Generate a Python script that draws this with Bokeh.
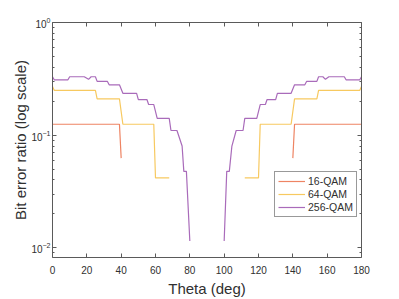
from bokeh.plotting import figure
from bokeh.models import (LinearAxis, LogAxis, FixedTicker, Range1d, Legend, LegendItem,
                          CustomJSTickFormatter)
from bokeh.embed import file_html
from bokeh.resources import INLINE

nan = float("nan")

# ---- data ----
theta_16 = [0, 39, 40, nan, 140, 141, 180]
ber_16 = [0.125, 0.125, 0.0625, nan, 0.0625, 0.125, 0.125]

theta_64 = [0, 1, 25, 26, 39, 41, 59, 60, 68, nan,
            112, 120, 121, 139, 141, 154, 155, 179, 180]
ber_64 = [0.27, 0.25, 0.25, 0.21, 0.21, 0.125, 0.125, 0.0417, 0.0417, nan,
          0.0417, 0.0417, 0.125, 0.125, 0.21, 0.21, 0.25, 0.25, 0.27]

theta_256 = [0, 1, 9, 10, 18.5, 21, 22.5, 25, 26, 32, 33, 39, 41, 49, 50, 55, 56, 59,
             61, 68, 69, 72.5, 75.5, 76.5, 78, 80, nan,
             100, 101.5, 103, 104.5, 107, 111, 112, 119, 121, 124, 125, 130, 131, 139,
             141, 147, 148, 154, 155, 157.5, 159, 161, 170, 171, 179, 180]
ber_256 = [0.33, 0.31, 0.31, 0.33, 0.33, 0.313, 0.33, 0.33, 0.30, 0.30, 0.28, 0.28,
           0.235, 0.235, 0.207, 0.207, 0.187, 0.187, 0.141, 0.141, 0.110, 0.110,
           0.08, 0.0477, 0.0477, 0.0115, nan,
           0.0115, 0.0477, 0.0477, 0.08, 0.110, 0.110, 0.141, 0.141, 0.187, 0.187,
           0.207, 0.207, 0.235, 0.235, 0.28, 0.28, 0.30, 0.30, 0.33, 0.33, 0.313,
           0.33, 0.33, 0.31, 0.31, 0.33]

series_names = ["16-QAM", "64-QAM", "256-QAM"]
series_colors = ["#EE8463", "#F7C960", "#A96BBA"]

x_ticks = [0, 20, 40, 60, 80, 100, 120, 140, 160, 180]
y_ticks = [0.01, 0.1, 1]
y_minor = [m * 10.0 ** e for e in (-3, -2, -1) for m in range(2, 10)]

FONT = "Liberation Sans"
TXT = "#303030"
AXC = "#5a5a5a"

p = figure(width=399, height=299,
           x_range=Range1d(0, 180), y_range=Range1d(0.0082, 1),
           y_axis_type="log", output_backend="svg", toolbar_location=None,
           min_border_left=52, min_border_right=38, min_border_top=22,
           min_border_bottom=37)
p.xgrid.visible = False
p.ygrid.visible = False
p.outline_line_color = None
p.background_fill_color = "white"

renderers = []
for xs, ys, c in [(theta_16, ber_16, series_colors[0]),
                  (theta_64, ber_64, series_colors[1]),
                  (theta_256, ber_256, series_colors[2])]:
    r = p.line(xs, ys, line_color=c, line_width=1.2)
    renderers.append(r)

def style(ax):
    ax.axis_line_color = AXC
    ax.axis_line_width = 1
    ax.major_tick_line_color = AXC
    ax.minor_tick_line_color = AXC
    ax.major_tick_in = 4
    ax.major_tick_out = 0
    ax.minor_tick_in = 2
    ax.minor_tick_out = 0
    ax.major_label_text_font = FONT
    ax.major_label_text_color = TXT
    ax.major_label_text_font_size = "10px"
    ax.axis_label_text_font = FONT
    ax.axis_label_text_color = TXT
    ax.axis_label_text_font_style = "normal"
    ax.axis_label_text_font_size = "15px"

xa = p.xaxis[0]
xa.ticker = FixedTicker(ticks=x_ticks)
style(xa)
xa.axis_label = "Theta (deg)"
xa.major_label_standoff = 8
xa.axis_label_standoff = 3

ya = p.yaxis[0]
ya.ticker = FixedTicker(ticks=y_ticks, minor_ticks=y_minor)
style(ya)
ya.axis_label = "Bit error ratio (log scale)"
ya.major_label_standoff = 2
ya.axis_label_standoff = -1

blank = CustomJSTickFormatter(code="return ''")

top = LinearAxis(ticker=FixedTicker(ticks=x_ticks), formatter=blank)
style(top)
top.major_label_standoff = 0
top.axis_label_standoff = 0
p.add_layout(top, "above")

right = LogAxis(ticker=FixedTicker(ticks=y_ticks, minor_ticks=y_minor), formatter=blank)
style(right)
right.major_label_standoff = 0
right.axis_label_standoff = 0
p.add_layout(right, "right")

legend = Legend(items=[LegendItem(label=n, renderers=[r]) for n, r in zip(series_names, renderers)],
                location=(222, 40))
legend.border_line_color = "#333333"
legend.border_line_width = 1
legend.background_fill_color = "white"
legend.background_fill_alpha = 1
legend.label_text_font = FONT
legend.label_text_font_size = "10.5px"
legend.label_text_color = TXT
legend.glyph_width = 27
legend.glyph_height = 12
legend.label_height = 12
legend.spacing = 1
legend.padding = 3
legend.label_standoff = 3
legend.margin = 0
p.add_layout(legend)

open("out.html", "w").write(file_html(p, INLINE))
